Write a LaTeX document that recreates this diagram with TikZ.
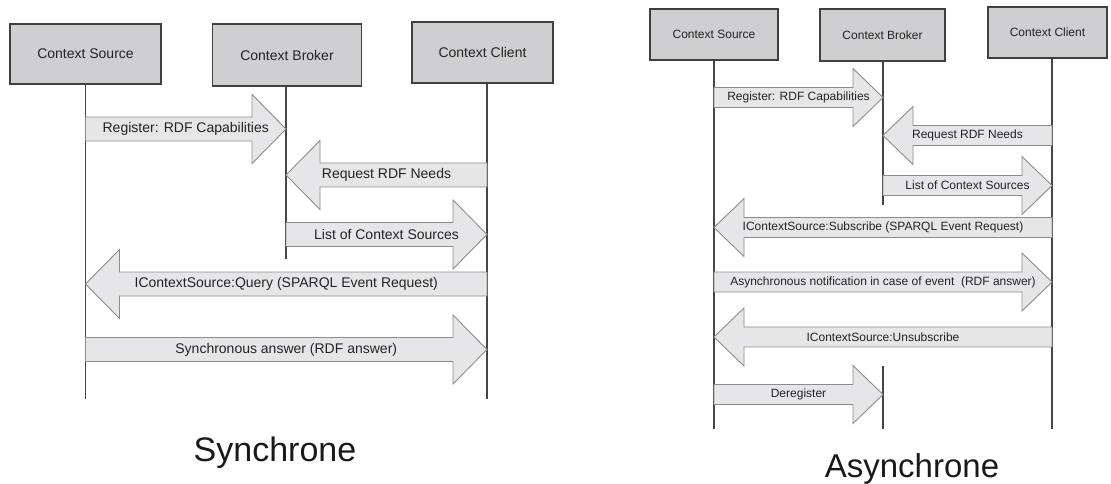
\documentclass[tikz,border=0pt]{standalone}
\usepackage{fontspec}
\setmainfont{Liberation Sans}
\usetikzlibrary{calc}

\definecolor{boxgray}{RGB}{207,207,209}
\definecolor{boxline}{RGB}{64,64,64}
\definecolor{arrowgray}{RGB}{230,230,232}
\definecolor{arrowline}{RGB}{140,140,140}
\definecolor{lifegray}{RGB}{70,70,70}
\definecolor{textgray}{RGB}{35,35,35}

% block arrow between two lifelines: from, to, y, label
\newcommand{\sendmsg}[4]{%
    \path (#1 |- 0,#3) coordinate (ma) (#2 |- 0,#3) coordinate (mb);
    \draw[msg] ($(ma)+(0,-\shafth)$) -- ($(mb)!\headl!(ma)+(0,-\shafth)$)
        -- ($(mb)!\headl!(ma)+(0,-\headh)$) -- (mb)
        -- ($(mb)!\headl!(ma)+(0,\headh)$) -- ($(mb)!\headl!(ma)+(0,\shafth)$)
        -- ($(ma)+(0,\shafth)$) -- cycle;
    \node[msglabel] at ($(ma)!0.5!(mb)$) {#4};}

\begin{document}
\begin{tikzpicture}[x=1pt,y=-1pt,
    actor/.style={draw=boxline,fill=boxgray,line width=1.1pt,txt,text=textgray},
    life/.style={draw=lifegray,line width=1.1pt},
    msg/.style={draw=arrowline,fill=arrowgray,line width=0.9pt},
    msglabel/.style={txt,text=textgray,inner sep=0pt},
    caption/.style={font=\fontsize{34}{40}\selectfont,anchor=base,text=black!90}]

    \useasboundingbox[fill=white] (0,0) rectangle (1111,484);

    % synchrone
    \begin{scope}[txt/.style={font=\fontsize{14}{16}\selectfont}]
        \def\shafth{12}\def\headh{34.5}\def\headl{34pt}
        \node[actor,minimum width=151pt,minimum height=60pt] (src1) at (85.5,54) {Context Source};
        \node[actor,minimum width=149pt,minimum height=62pt] (brk1) at (287,55) {Context Broker};
        \node[actor,minimum width=141pt,minimum height=61pt] (cli1) at (482.5,52.5) {Context Client};
        \coordinate (src1l) at (src1.south);
        \coordinate (brk1l) at ([xshift=-1pt]brk1.south);
        \coordinate (cli1l) at ([xshift=4.5pt]cli1.south);
        \draw[life] (src1l) -- (src1l |- 0,399);
        \draw[life] (brk1l) -- (brk1l |- 0,259);
        \draw[life] (cli1l) -- (cli1l |- 0,399);
        \sendmsg{src1l}{brk1l}{129}{Register: RDF Capabilities}
        \sendmsg{cli1l}{brk1l}{175}{Request RDF Needs}
        \sendmsg{brk1l}{cli1l}{234.5}{List of Context Sources}
        \sendmsg{cli1l}{src1l}{284}{IContextSource:Query (SPARQL Event Request)}
        \sendmsg{src1l}{cli1l}{349.5}{Synchronous answer (RDF answer)}
        \node[caption] (sync) at (275,461) {Synchrone};
    \end{scope}

    % asynchrone
    \begin{scope}[txt/.style={font=\fontsize{12}{14}\selectfont}]
        \def\shafth{10}\def\headh{29}\def\headl{30pt}
        \node[actor,minimum width=128pt,minimum height=51pt] (src2) at (714,34.5) {Context Source};
        \node[actor,minimum width=125pt,minimum height=52pt] (brk2) at (882.5,35) {Context Broker};
        \node[actor,minimum width=119pt,minimum height=51pt] (cli2) at (1047.5,32.5) {Context Client};
        \coordinate (src2l) at (src2.south);
        \coordinate (brk2l) at ([xshift=0.5pt]brk2.south);
        \coordinate (cli2l) at ([xshift=4.5pt]cli2.south);
        \draw[life] (src2l) -- (src2l |- 0,429);
        \draw[life] (brk2l) -- (brk2l |- 0,205) (brk2l |- 0,366) -- (brk2l |- 0,429);
        \draw[life] (cli2l) -- (cli2l |- 0,429);
        \sendmsg{src2l}{brk2l}{97.5}{Register: RDF Capabilities}
        \sendmsg{cli2l}{brk2l}{135.5}{Request RDF Needs}
        \sendmsg{brk2l}{cli2l}{185.5}{List of Context Sources}
        \sendmsg{cli2l}{src2l}{227.5}{IContextSource:Subscribe (SPARQL Event Request)}
        \sendmsg{src2l}{cli2l}{282}{Asynchronous notification in case of event\ \ (RDF answer)}
        \sendmsg{cli2l}{src2l}{337}{IContextSource:Unsubscribe}
        \sendmsg{src2l}{brk2l}{394.5}{Deregister}
        \node[caption,font=\fontsize{33}{40}\selectfont] (async) at (912,477) {Asynchrone};
    \end{scope}
\end{tikzpicture}
\end{document}
